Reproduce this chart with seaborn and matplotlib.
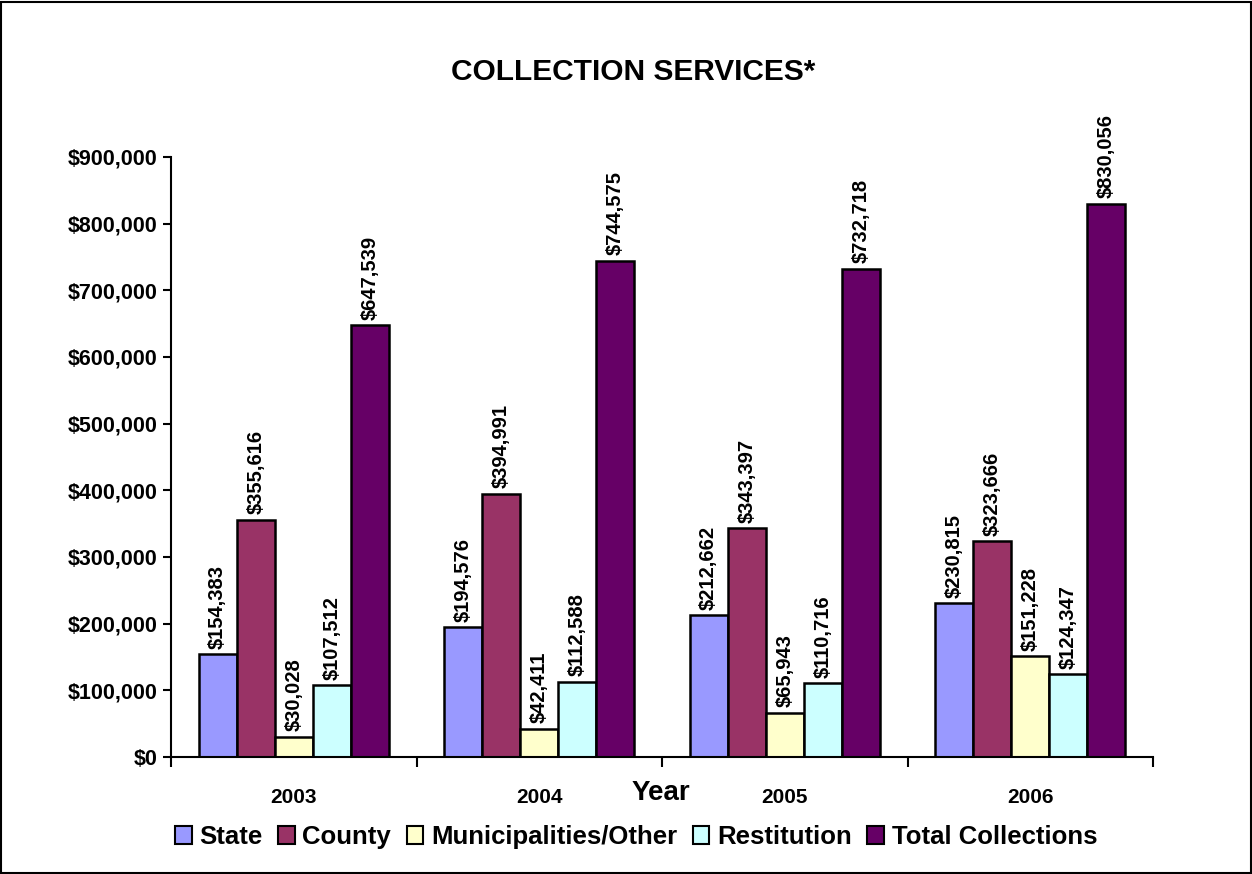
import matplotlib
matplotlib.use("Agg")
import matplotlib.pyplot as plt
import matplotlib.patches as mpatches
from matplotlib.ticker import FuncFormatter, FixedLocator
import seaborn as sns
import pandas as pd

years = ["2003", "2004", "2005", "2006"]
series = ["State", "County", "Municipalities/Other", "Restitution", "Total Collections"]
state = [154383, 194576, 212662, 230815]
county = [355616, 394991, 343397, 323666]
municipal = [30028, 42411, 65943, 151228]
restitution = [107512, 112588, 110716, 124347]
total = [647539, 744575, 732718, 830056]
colors = ["#9999FF", "#993366", "#FFFFCC", "#CCFFFF", "#660066"]

values = [state, county, municipal, restitution, total]
rows = []
for s, vals in zip(series, values):
    for y, v in zip(years, vals):
        rows.append({"Year": y, "Series": s, "Value": v})
df = pd.DataFrame(rows)

sns.set_theme(style="white")
plt.rcParams['font.family'] = ['Liberation Sans', 'DejaVu Sans']
plt.rcParams['font.weight'] = 'bold'
plt.rcParams['text.color'] = 'black'
plt.rcParams['xtick.color'] = 'black'
plt.rcParams['ytick.color'] = 'black'
plt.rcParams['axes.labelcolor'] = 'black'

fig = plt.figure(figsize=(12.52, 8.74), dpi=100)
ax = fig.add_axes([171/1252, 1-757/874, (1153-171)/1252, (757-157)/874])

sns.barplot(data=df, x="Year", y="Value", hue="Series", hue_order=series, order=years,
            palette=colors, edgecolor="black", linewidth=1.8, width=0.775,
            saturation=1, ax=ax, legend=False)

for cont, vals in zip(ax.containers, values):
    ax.bar_label(cont, labels=[f"${v:,}" for v in vals], rotation=90, padding=4,
                 fontsize=14.5, fontweight='bold', color='black')

ax.set_ylim(0, 900000)
ax.set_xlim(-0.5, 3.5)
ax.set_yticks(range(0, 900001, 100000))
ax.yaxis.set_major_formatter(FuncFormatter(lambda v, p: f"${int(v):,}"))
ax.tick_params(axis='y', which='major', direction='out', length=6, width=1.5,
               labelsize=15.5, left=True, color='black', labelcolor='black', pad=4)
ax.tick_params(axis='x', which='major', length=0, labelsize=15, pad=22, labelcolor='black')
ax.xaxis.set_minor_locator(FixedLocator([-0.5, 0.5, 1.5, 2.5, 3.5]))
ax.tick_params(axis='x', which='minor', direction='out', length=7, width=1.5,
               bottom=True, color='black')
for lab in ax.get_xticklabels() + ax.get_yticklabels():
    lab.set_fontweight('bold')
ax.set_xlabel("")
ax.set_ylabel("")
for side in ["top", "right"]:
    ax.spines[side].set_visible(False)
for side in ["left", "bottom"]:
    ax.spines[side].set_color("black")
    ax.spines[side].set_linewidth(1.5)

fig.text(633/1252, 1-72/874, "COLLECTION SERVICES*", ha='center', va='center',
         fontsize=21.5, fontweight='bold', color='black')
fig.text(661/1252, 1-793/874, "Year", ha='center', va='center',
         fontsize=20, fontweight='bold', color='black')

handles = [mpatches.Patch(facecolor=c, edgecolor='black', linewidth=1.5, label=s)
           for c, s in zip(colors, series)]
leg = fig.legend(handles=handles, loc='center', bbox_to_anchor=(636/1252, 1-837/874),
                 ncol=5, frameon=False, prop={'size': 18.5, 'weight': 'bold'},
                 handlelength=0.65, handleheight=0.65, handletextpad=0.3, columnspacing=0.6)
for t in leg.get_texts():
    t.set_color('black')

fig.add_artist(mpatches.Rectangle((0.001, 0.001), 0.998, 0.997, transform=fig.transFigure,
                                  fill=False, edgecolor='black', linewidth=1.5))

fig.savefig("out.png", dpi=100)
